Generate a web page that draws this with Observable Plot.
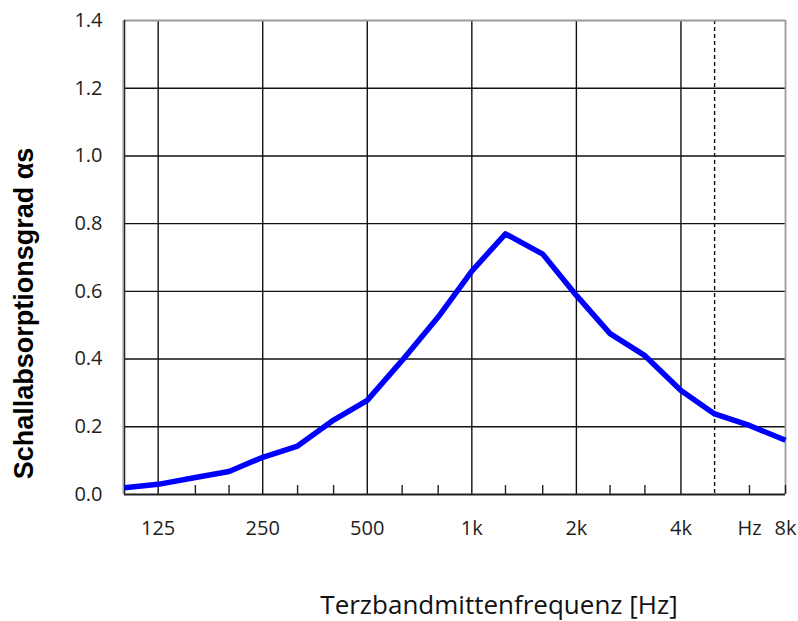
<!DOCTYPE html>
<html>
<head>
<meta charset="utf-8">
<script src="https://cdn.jsdelivr.net/npm/d3@7"></script>
<script src="https://cdn.jsdelivr.net/npm/@observablehq/plot@0.6"></script>
<style>
  html, body { margin: 0; padding: 0; background: #fff; }
  #chart svg { display: block; }
</style>
</head>
<body>
<div id="chart"></div>
<script>
// Third-octave band centre frequencies (Hz)
const freqs = [100, 125, 160, 200, 250, 315, 400, 500, 630, 800, 1000, 1250, 1600, 2000, 2500, 3150, 4000, 5000, 6300, 8000];
// Sound absorption coefficient alpha_s
const alpha = [0.02, 0.03, 0.05, 0.068, 0.11, 0.143, 0.22, 0.278, 0.396, 0.524, 0.66, 0.77, 0.71, 0.588, 0.475, 0.41, 0.307, 0.238, 0.204, 0.16];

// Octave grid lines and labels
const octaveFreqs = [125, 250, 500, 1000, 2000, 4000];
const xTickValues = [125, 250, 500, 1000, 2000, 4000, 6300, 8000];
const xTickLabels = ["125", "250", "500", "1k", "2k", "4k", "Hz", "8k"];
const minorFreqs = [160, 200, 315, 400, 630, 800, 1250, 1600, 2500, 3150, 6300, 8000];
const dashedFreq = [5000];

const yTicks = [0, 0.2, 0.4, 0.6, 0.8, 1.0, 1.2, 1.4];
const yGrid = [0.2, 0.4, 0.6, 0.8, 1.0, 1.2];

const xTitle = "Terzbandmittenfrequenz [Hz]";
const yTitle = "Schallabsorptionsgrad αs";

const data = freqs.map((f, i) => ({f, a: alpha[i]}));
const xTicks = xTickValues.map((v, i) => ({v, label: xTickLabels[i]}));

const chart = Plot.plot({
  width: 798,
  height: 621,
  marginLeft: 124,
  marginRight: 13,
  marginTop: 20,
  marginBottom: 127,
  style: {background: "#fff", fontFamily: "'Open Sans', sans-serif"},
  x: {type: "log", domain: [100, 8000], axis: null},
  y: {domain: [0, 1.4], axis: null},
  marks: [
    // horizontal grid
    Plot.ruleY(yGrid, {stroke: "#111", strokeWidth: 1.4}),
    // vertical octave grid
    Plot.ruleX(octaveFreqs, {stroke: "#111", strokeWidth: 1.4}),
    // dashed 5 kHz line
    Plot.ruleX(dashedFreq, {stroke: "#111", strokeWidth: 1.4, strokeDasharray: "4,3"}),
    // frame: top and right grey
    Plot.ruleY([1.4], {stroke: "#9a9a9a", strokeWidth: 1.8}),
    Plot.ruleX([8000], {stroke: "#9a9a9a", strokeWidth: 1.8}),
    // frame: left and bottom dark
    Plot.ruleX([100], {stroke: "#c8c8c8", strokeWidth: 2, dx: -1.5}),
    Plot.ruleX([100], {stroke: "#222", strokeWidth: 1.5}),
    Plot.ruleY([0], {stroke: "#222", strokeWidth: 1.8}),
    // minor ticks at third-octave bands
    Plot.ruleX(minorFreqs, {x: d => d, y1: 0, y2: 0, insetBottom: 9, stroke: "#222", strokeWidth: 1.4}),
    // curve
    Plot.line(data, {x: "f", y: "a", stroke: "#0000ff", strokeWidth: 5.5, strokeLinejoin: "round", strokeLinecap: "butt"}),
    // x tick labels
    Plot.text(xTicks, {
      x: "v",
      y: 0,
      text: "label",
      lineAnchor: "top",
      textAnchor: "middle",
      dy: 26,
      fontSize: 20,
      fill: "#1e1e1e"
    }),
    // y tick labels
    Plot.text(yTicks, {
      x: 100,
      y: d => d,
      text: d => d3.format(".1f")(d),
      textAnchor: "end",
      lineAnchor: "middle",
      dx: -22,
      fontSize: 20,
      fill: "#1e1e1e"
    }),
    // axis titles
    Plot.text([xTitle], {
      text: d => d,
      frameAnchor: "bottom",
      textAnchor: "middle",
      lineAnchor: "middle",
      dx: 44,
      dy: 111,
      fontSize: 26,
      fill: "#111",
      fontFamily: "'Open Sans', sans-serif"
    }),
    Plot.text([yTitle], {
      text: d => d,
      frameAnchor: "left",
      textAnchor: "middle",
      lineAnchor: "middle",
      rotate: -90,
      dx: -100,
      dy: 56,
      fontSize: 27,
      fontWeight: "bold",
      fill: "#000",
      fontFamily: "'Liberation Sans', Arial, sans-serif"
    })
  ]
});

document.getElementById("chart").appendChild(chart);
</script>
</body>
</html>
